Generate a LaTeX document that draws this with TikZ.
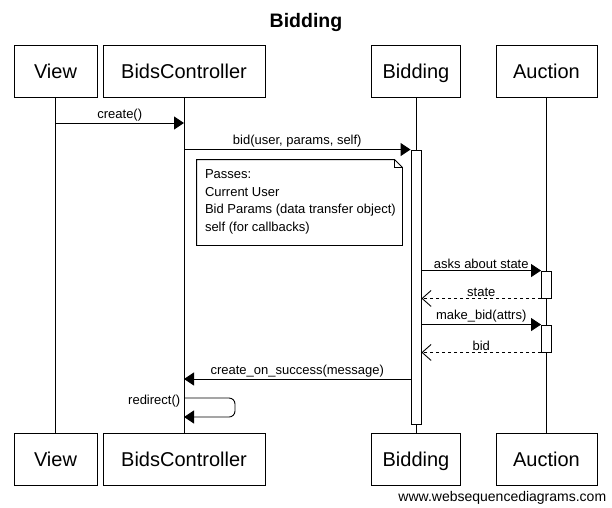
\documentclass[tikz,border=0pt]{standalone}
\usepackage{fontspec}
\setmainfont{Liberation Sans}
\usetikzlibrary{arrows.meta}
\usetikzlibrary{positioning}

\tikzset{
	actor/.style={draw,minimum height=52pt,inner sep=0pt,text height=14pt,text depth=0pt,font=\fontsize{20}{22}\selectfont},
	msg/.style={-{Triangle[length=10pt,width=13pt]}},
	ret/.style={dashed,-{Straight Barb[length=9pt,width=16pt]}},
	lbl/.style={above,inner sep=1.5pt,font=\fontsize{13}{15}\selectfont},
	act/.style={draw,fill=white,minimum width=10pt,inner sep=0pt}
}

\begin{document}
\begin{tikzpicture}[x=1pt,y=-1pt,line width=0.9pt]
	\useasboundingbox (0,0) rectangle (612,507);
	\node[font=\bfseries\fontsize{19.5}{22}\selectfont] (title) at (306,22) {Bidding};
	\foreach \n/\x/\w/\t in {v/55.5/83/View, c/184/162/BidsController, b/416/89/Bidding, a/546.5/101/Auction}{
		\node[actor,minimum width=\w pt] (top\n) at (\x,71.5) {\t};
		\node[actor,minimum width=\w pt] (bot\n) at (\x,459) {\t};
		\draw (top\n) -- (bot\n);
	}
	\node[act,minimum height=274pt] (actb) at (416,287) {};
	\node[act,minimum height=27pt] (acta1) at (546.5,284.5) {};
	\node[act,minimum height=27pt] (acta2) at (546.5,338.5) {};

	\draw[msg] (topv |- 0,123) -- node[lbl] {create()} (topc |- 0,123);
	\draw[msg] (topc |- actb.north) -- node[lbl] {bid(user, params, self)} (actb.north west);
	\node[inner sep=0pt,minimum width=205pt,minimum height=85pt] (note) at (299.5,202.5) {};
	\draw (note.north west) -- ([xshift=-8pt]note.north east) -- ([yshift=-8pt]note.north east) -- (note.south east) -- (note.south west) -- cycle;
	\draw[line width=0.5pt] ([xshift=-8pt]note.north east) |- ([yshift=-8pt]note.north east);
	\node[anchor=north west,align=left,inner sep=0pt,font=\fontsize{13}{17.5}\selectfont] (passes) at ([xshift=8pt,yshift=-10pt]note.north west) {Passes:\\Current User\\Bid Params (data transfer object)\\self (for callbacks)};
	\draw[msg] (actb.east |- acta1.north) -- node[lbl] {asks about state} (acta1.north west);
	\draw[ret] (acta1.south west) -- node[lbl] {state} (actb.east |- acta1.south);
	\draw[msg] (actb.east |- acta2.north) -- node[lbl] {make\_bid(attrs)} (acta2.north west);
	\draw[ret] (acta2.south west) -- node[lbl] {bid} (actb.east |- acta2.south);
	\draw[msg] (actb.west |- 0,379) -- node[lbl] {create\_on\_success(message)} (topc |- 0,379);
	\draw[msg,rounded corners=6pt] (topc |- 0,398) node[left,yshift=-3pt,font=\fontsize{13}{15}\selectfont] (redir) {redirect()} -- ++(51,0) -- ++(0,19) -- (topc |- 0,417);
	\node[anchor=east,font=\fontsize{14}{16}\selectfont] (credit) at (610,498) {www.websequencediagrams.com};
\end{tikzpicture}
\end{document}
